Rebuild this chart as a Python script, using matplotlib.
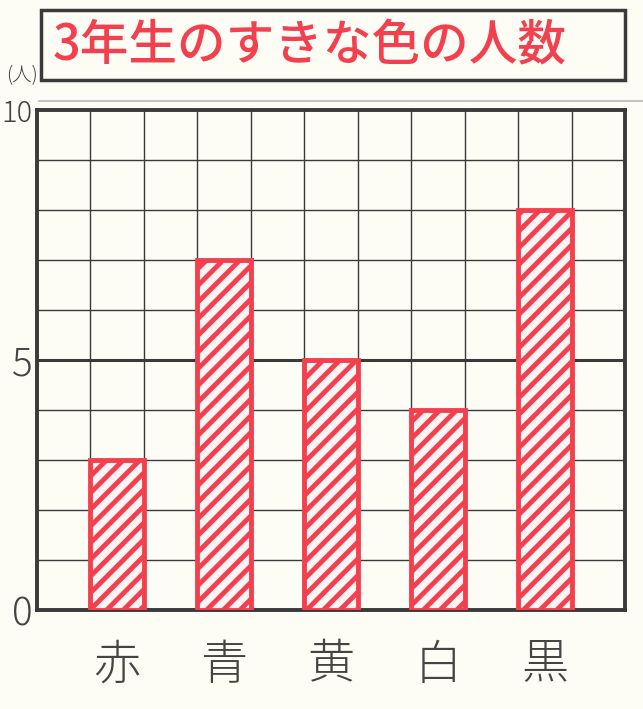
import numpy as np
import matplotlib.pyplot as plt
from matplotlib.patches import Rectangle
from matplotlib.lines import Line2D

plt.rcParams['font.family'] = ['Noto Sans CJK JP', 'DejaVu Sans']
plt.rcParams['hatch.linewidth'] = 3.5

title = '3年生のすきな色の人数'
colors = ['赤', '青', '黄', '白', '黒']
counts = [3, 7, 5, 4, 8]
yticks = [0, 5, 10]
unit = '(人)'

paper = '#fdfdf6'
red = '#f2404f'
ink = '#3a3a3a'

fig = plt.figure(figsize=(6.43, 7.09), dpi=100, facecolor=paper)
ax = fig.add_axes([0.0575, 0.1396, 0.9145, 0.7052], facecolor=paper)

ncols = 2 * len(colors) + 1
ax.set_xlim(0, ncols)
ax.set_ylim(0, 10)

# grid
for x in range(1, ncols):
    ax.axvline(x, color=ink, lw=1.0, zorder=1)
for y in range(1, 10):
    ax.axhline(y, color=ink, lw=2.2 if y == 5 else 1.0, zorder=1)

xs = [2 * i + 1.5 for i in range(len(colors))]
ax.bar(xs, counts, width=1.0, facecolor='#fff4f4', edgecolor=red, hatch='//',
       linewidth=3.5, zorder=3)

for s in ax.spines.values():
    s.set_linewidth(2.8)
    s.set_color(ink)

ax.set_xticks(xs)
ax.set_xticklabels(colors, fontsize=34, color='#444444', fontweight='light')
ax.set_yticks(yticks)
ylabels = ax.set_yticklabels([str(v) for v in yticks], fontsize=28, color='#444444',
                             fontweight='light')
ylabels[-1].set_fontsize(21)
ax.tick_params(axis='x', length=0, pad=22)
ax.tick_params(axis='y', length=0, pad=3)

fig.text(0.01, 0.885, unit, fontsize=14, color='#444444', fontweight='light')

# faint double line above the grid
fig.add_artist(Line2D([0.06, 1.0], [0.857, 0.857], color='#999999', lw=1.2, alpha=0.7))

# title box
fig.add_artist(Rectangle((0.063, 0.887), 0.909, 0.099, fill=False, edgecolor=ink, lw=2.5))
fig.text(0.082, 0.934, title, fontsize=35, color=red, fontweight='medium', va='center', ha='left')

fig.savefig('out.png', dpi=100, facecolor=paper)
